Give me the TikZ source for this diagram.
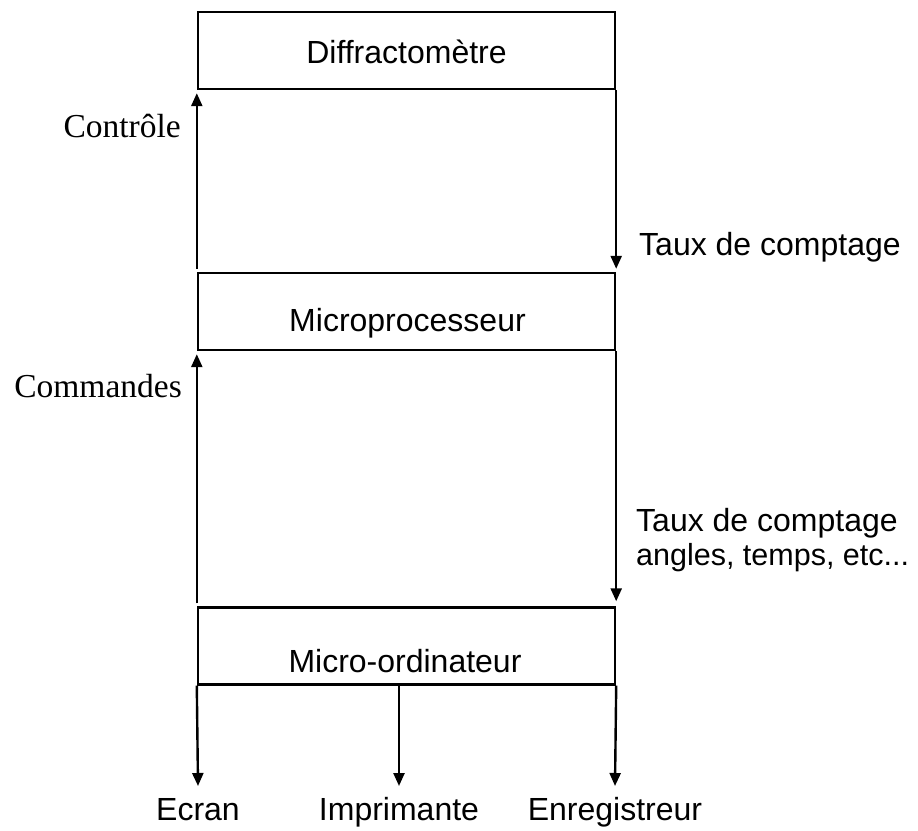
\documentclass[tikz,border=0pt]{standalone}
\usepackage{fontspec}
\setmainfont{Liberation Serif}
\newfontfamily\arialf{Liberation Sans}
\usetikzlibrary{arrows.meta}
\begin{document}
\begin{tikzpicture}[x=1pt,y=-1pt,
  box/.style={draw=black,line width=2.4pt,minimum width=417pt,minimum height=77pt,inner sep=0pt},
  lbl/.style={inner sep=0pt,font=\arialf\fontsize{32}{36}\selectfont},
  slbl/.style={inner sep=0pt,font=\fontsize{33.5}{38}\selectfont},
  arr/.style={line width=2.4pt,-{Triangle[width=11pt,length=13pt]}}]
\useasboundingbox (0,0) rectangle (918,830);
% boxes
\node[box] (diff) at (406.5,50.5) {};
\node[box] (micro) at (406.5,311.5) {};
\node[box] (ordi) at (406.5,646) {};
% box texts
\node[lbl,anchor=base] (difft) at (406.5,63) {Diffractomètre};
\node[lbl,anchor=base] (microt) at (407.5,331) {Microprocesseur};
\node[lbl,anchor=base] (ordit) at (405,672) {Micro-ordinateur};
% vertical arrows
\draw[arr,shorten <=3pt,shorten >=3pt] (micro.north west) -- (diff.south west);
\draw[arr,shorten >=3pt] (diff.south east) -- (micro.north east);
\draw[arr,shorten <=3pt,shorten >=3pt] (ordi.north west) -- (micro.south west);
\draw[arr,shorten >=5pt] (micro.south east) -- (ordi.north east);
% side labels
\node[slbl,anchor=base east] (ctrl) at (181,137) {Contrôle};
\node[slbl,anchor=base east] (cmd) at (182,397) {Commandes};
\node[lbl,anchor=base west] (taux1) at (639,255) {Taux de comptage};
\node[lbl,anchor=base west] (taux2) at (636,531) {Taux de comptage};
\node[lbl,anchor=base west,font=\arialf\fontsize{30.5}{36}\selectfont] (angles) at (636,565) {angles, temps, etc...};
% output arrows
\coordinate (ecranend) at (198,786);
\coordinate (imprend) at (399,786);
\coordinate (enregend) at (615,786);
\draw[arr] (ordi.south west) -- (ecranend);
\draw[arr] (ordi.south west -| imprend) -- (imprend);
\draw[arr] (ordi.south east) -- (enregend);
\node[lbl,anchor=base] (ecran) at (ecranend |- 0,820) {Ecran};
\node[lbl,anchor=base] (impr) at (imprend |- 0,820) {Imprimante};
\node[lbl,anchor=base] (enreg) at (enregend |- 0,820) {Enregistreur};
\end{tikzpicture}
\end{document}
